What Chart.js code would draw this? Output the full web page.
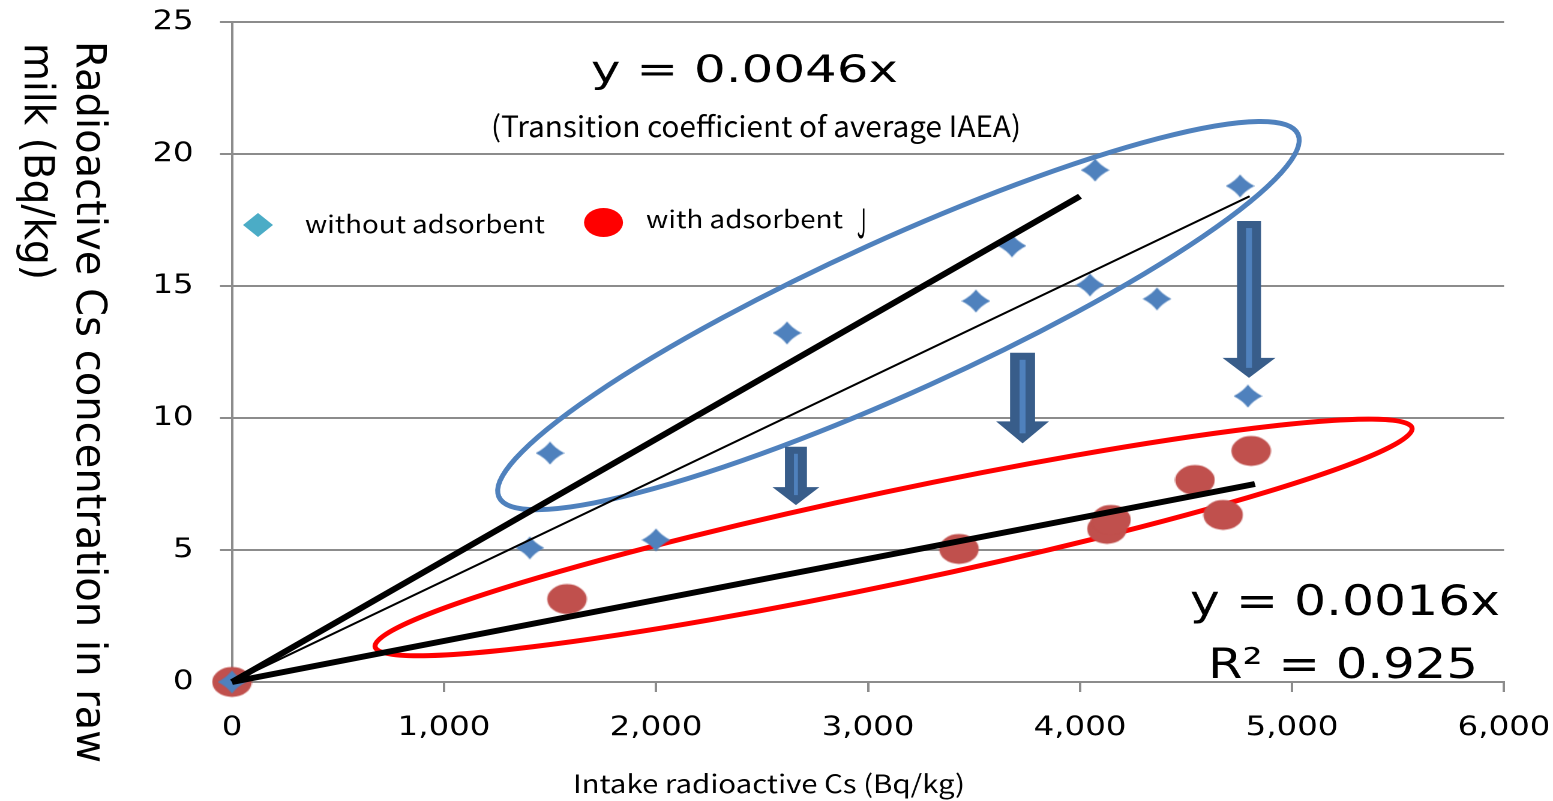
<!DOCTYPE html>
<html><head><meta charset="utf-8">
<script src="https://cdn.jsdelivr.net/npm/chart.js@4.4.1/dist/chart.umd.min.js"></script>
<style>
html,body{margin:0;padding:0;background:#fff;overflow:hidden;}
#wrap{position:absolute;left:0;top:0;width:1294px;height:801px;transform:scaleX(1.20015);transform-origin:0 0;}
</style></head><body>
<div id="wrap"><canvas id="chart"></canvas></div>
<script>
// ---------- data ----------
const withoutX = [0, 1405, 1500, 2000, 2618, 3509, 3679, 4047, 4071, 4363, 4755, 4792];
const withoutY = [0, 5.08, 8.67, 5.38, 13.22, 14.43, 16.52, 15.04, 19.39, 14.51, 18.79, 10.83];
const withX = [0, 1580, 3429, 4127, 4146, 4542, 4675, 4807];
const withY = [0, 3.14, 5.04, 5.80, 6.14, 7.65, 6.33, 8.75];
const iaeaLineX = [0, 4000];
const iaeaLineY = [0, 18.4];
const fitWithoutX = [0, 4800];
const fitWithoutY = [0, 18.4];
const fitWithX = [0, 4825];
const fitWithY = [0, 7.5];
const xTickValues = [0, 1000, 2000, 3000, 4000, 5000, 6000];
const yTickValues = [0, 5, 10, 15, 20, 25];
const seriesNames = ['without adsorbent', 'with adsorbent'];
const eqIAEA = 'y = 0.0046x';
const noteIAEA = '(Transition coefficient of average IAEA)';
const eqWith = 'y = 0.0016x';
const r2With = 'R² = 0.925';
const xTitle = 'Intake radioactive Cs (Bq/kg)';
const yTitleLines = ['Radioactive Cs concentration in raw', 'milk (Bq/kg)'];

// annotation shapes (data units for anchors)
const ellipseTipX1 = [1259, 675];
const ellipseTipY1 = [7.01, 1.33];
const ellipseTipX2 = [5028, 5566];
const ellipseTipY2 = [20.75, 9.62];
const arrowX = [2660, 3729, 4797];
const arrowTopY = [8.91, 12.47, 17.46];
const arrowTipY = [6.70, 9.04, 11.52];

// ---------- styling ----------
const S = 1553 / 1294;
const ellipseStyle = [{b: 76, w: 5, color: '#4F81BD'}, {b: 46, w: 5, color: '#FF0000'}];
const arrowStyle = [
  {shaft: 22, head: 47, headLen: 18, stripe: 4},
  {shaft: 25, head: 53, headLen: 22, stripe: 6},
  {shaft: 24, head: 53, headLen: 20, stripe: 6}
];

function makeDiamond(w, h, color, k) {
  const c = document.createElement('canvas');
  c.width = w; c.height = h;
  const g = c.getContext('2d');
  const cx = w / 2, cy = h / 2;
  g.fillStyle = color;
  g.beginPath();
  g.moveTo(cx, 0);
  g.quadraticCurveTo(cx + (w / 2) * k, cy - (h / 2) * k, w, cy);
  g.quadraticCurveTo(cx + (w / 2) * k, cy + (h / 2) * k, cx, h);
  g.quadraticCurveTo(cx - (w / 2) * k, cy + (h / 2) * k, 0, cy);
  g.quadraticCurveTo(cx - (w / 2) * k, cy - (h / 2) * k, cx, 0);
  g.closePath();
  g.fill();
  return c;
}
function makeEllipse(w, h, color) {
  const c = document.createElement('canvas');
  c.width = w; c.height = h;
  const g = c.getContext('2d');
  g.fillStyle = color;
  g.beginPath();
  g.ellipse(w / 2, h / 2, w / 2 - 0.5, h / 2 - 0.5, 0, 0, Math.PI * 2);
  g.fill();
  return c;
}
const diamondImg = makeDiamond(24, 23, '#4F81BD', 0.38);
const circleImg = makeEllipse(34, 31, '#C0504D');

function pts(xs, ys) { return xs.map((v, i) => ({x: v, y: ys[i]})); }

function fitText(ctx, txt, left, baseline, font, width, color) {
  ctx.save();
  ctx.font = font;
  ctx.fillStyle = color || '#000';
  ctx.textAlign = 'left';
  ctx.textBaseline = 'alphabetic';
  const m = ctx.measureText(txt).width;
  ctx.translate(left, baseline);
  ctx.scale(width / m, 1);
  ctx.fillText(txt, 0, 0);
  ctx.restore();
}

const overlay = {
  id: 'overlay',
  beforeDatasetsDraw(chart) {
    const {ctx, scales: {x, y}} = chart;
    ctx.save();
    ctx.scale(1 / S, 1);
    ellipseStyle.forEach((e, i) => {
      const x1 = x.getPixelForValue(ellipseTipX1[i]) * S, y1 = y.getPixelForValue(ellipseTipY1[i]);
      const x2 = x.getPixelForValue(ellipseTipX2[i]) * S, y2 = y.getPixelForValue(ellipseTipY2[i]);
      const a = Math.hypot(x2 - x1, y2 - y1) / 2, ang = Math.atan2(y2 - y1, x2 - x1);
      ctx.beginPath();
      ctx.ellipse((x1 + x2) / 2, (y1 + y2) / 2, a, e.b, ang, 0, Math.PI * 2);
      ctx.lineWidth = e.w;
      ctx.strokeStyle = e.color;
      ctx.stroke();
    });
    ctx.restore();
  },
  afterDatasetsDraw(chart) {
    const {ctx, scales: {x, y}} = chart;
    ctx.save();
    ctx.scale(1 / S, 1);
    arrowStyle.forEach((a, i) => {
      const cx = x.getPixelForValue(arrowX[i]) * S;
      const top = y.getPixelForValue(arrowTopY[i]);
      const tip = y.getPixelForValue(arrowTipY[i]);
      const sw = a.shaft / 2, hw = a.head / 2, hs = tip - a.headLen;
      ctx.beginPath();
      ctx.moveTo(cx - sw, top); ctx.lineTo(cx + sw, top); ctx.lineTo(cx + sw, hs);
      ctx.lineTo(cx + hw, hs); ctx.lineTo(cx, tip); ctx.lineTo(cx - hw, hs);
      ctx.lineTo(cx - sw, hs); ctx.closePath();
      ctx.fillStyle = '#385D8A';
      ctx.fill();
      ctx.fillStyle = '#4F81BD';
      ctx.fillRect(cx - a.stripe / 2, top + 7, a.stripe, tip - top - 17);
    });
    ctx.restore();
  },
  afterDraw(chart) {
    const ctx = chart.ctx;
    ctx.save();
    ctx.scale(1 / S, 1);
    fitText(ctx, eqIAEA, 591, 82, '37px "DejaVu Sans"', 307);
    fitText(ctx, noteIAEA, 491, 137, '29px "Noto Sans CJK JP"', 530);
    fitText(ctx, eqWith, 1190, 615, '42px "DejaVu Sans"', 310);
    fitText(ctx, r2With, 1208, 678, '42px "DejaVu Sans"', 270);
    // legend
    ctx.fillStyle = '#4BACC6';
    ctx.beginPath();
    ctx.moveTo(258, 213); ctx.lineTo(273, 225); ctx.lineTo(258, 237); ctx.lineTo(243, 225); ctx.closePath();
    ctx.fill();
    fitText(ctx, seriesNames[0], 305, 233, '24px "Noto Sans CJK JP"', 240);
    ctx.fillStyle = '#FF0000';
    ctx.beginPath();
    ctx.ellipse(603.5, 222.5, 19.5, 14.5, 0, 0, Math.PI * 2);
    ctx.fill();
    fitText(ctx, seriesNames[1], 646, 228, '24px "Noto Sans CJK JP"', 197);
    fitText(ctx, 'J', 857, 238, '40px "Noto Sans CJK JP"', 9);
    fitText(ctx, xTitle, 573, 793, '25px "Noto Sans CJK JP"', 392);
    ctx.restore();
    // y axis title (rotated clockwise)
    const yLines = [{base: 76.7 / S, start: 41, len: 722}, {base: 24.8 / S, start: 43, len: 237}];
    yTitleLines.forEach((t, i) => {
      const L = yLines[i];
      ctx.save();
      ctx.font = '34.6px "DejaVu Sans"';
      ctx.fillStyle = '#000';
      ctx.textAlign = 'left';
      ctx.textBaseline = 'alphabetic';
      const m = ctx.measureText(t).width;
      ctx.translate(L.base, L.start);
      ctx.rotate(Math.PI / 2);
      ctx.scale(L.len / m, 1);
      ctx.fillText(t, 0, 0);
      ctx.restore();
    });
  }
};

const gridColor = '#8c8c8c';
new Chart(document.getElementById('chart'), {
  type: 'scatter',
  data: {
    datasets: [
      {label: 'IAEA', data: pts(iaeaLineX, iaeaLineY), showLine: true, borderColor: '#000', borderWidth: 5.8, pointRadius: 0, order: 0, clip: false},
      {label: 'fit without', data: pts(fitWithoutX, fitWithoutY), showLine: true, borderColor: '#000', borderWidth: 1.9, pointRadius: 0, order: 0, clip: false},
      {label: 'fit with', data: pts(fitWithX, fitWithY), showLine: true, borderColor: '#000', borderWidth: 5.8, pointRadius: 0, order: 0, clip: false},
      {label: seriesNames[0], data: pts(withoutX, withoutY), pointStyle: diamondImg, pointRadius: 12, order: 1, clip: false},
      {label: seriesNames[1], data: pts(withX, withY), pointStyle: circleImg, pointRadius: 15, order: 2, clip: false}
    ]
  },
  options: {
    responsive: true,
    maintainAspectRatio: false,
    animation: false,
    devicePixelRatio: 2,
    locale: 'en-US',
    layout: {padding: {top: 22, right: 40.8, left: 0, bottom: 0}},
    plugins: {legend: {display: false}, tooltip: {enabled: false}},
    scales: {
      x: {
        type: 'linear', min: 0, max: 6000,
        afterBuildTicks(s) { s.ticks = xTickValues.map(v => ({value: v})); },
        afterFit(s) { s.height = 119; s.paddingLeft = 0; s.paddingRight = 0; },
        ticks: {font: {family: 'DejaVu Sans', size: 27}, color: '#000', padding: 20, maxRotation: 0,
          callback: v => v.toLocaleString('en-US')},
        grid: {drawOnChartArea: false, color: gridColor, lineWidth: 2, tickLength: 10},
        border: {color: gridColor, width: 2}
      },
      y: {
        type: 'linear', min: 0, max: 25,
        afterBuildTicks(s) { s.ticks = yTickValues.map(v => ({value: v})); },
        afterFit(s) { s.width = 193.3; s.paddingTop = 0; s.paddingBottom = 0; },
        ticks: {font: {family: 'DejaVu Sans', size: 27}, color: '#000', padding: 22},
        grid: {color: gridColor, lineWidth: 2, tickLength: 10},
        border: {color: gridColor, width: 2}
      }
    }
  },
  plugins: [overlay]
});
</script>
</body></html>
